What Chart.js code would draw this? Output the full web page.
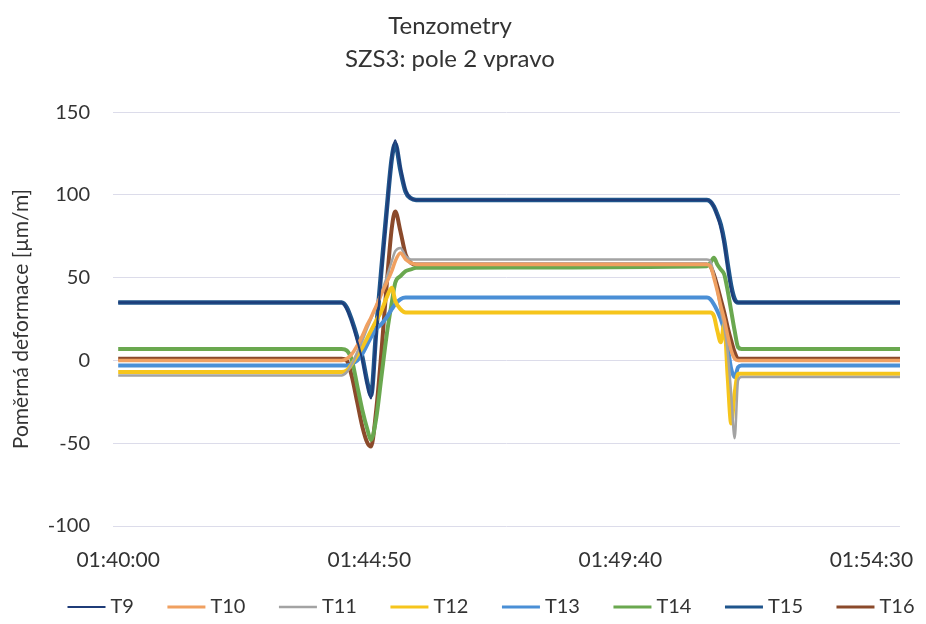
<!DOCTYPE html>
<html>
<head>
<meta charset="utf-8">
<script src="https://cdn.jsdelivr.net/npm/chart.js@4.4.0/dist/chart.umd.min.js"></script>
<style>
  html, body { margin: 0; padding: 0; background: #fff; }
  #wrap { width: 926px; height: 624px; }
</style>
</head>
<body>
<div id="wrap"><canvas id="tenzo-chart"></canvas></div>
<script>
// seconds since 01:40:00
var seconds = [0, 258, 264, 270, 276, 282, 288, 292, 298, 304, 310, 316, 320, 326, 332, 338, 344,
               680, 684, 688, 692, 696, 700, 704, 708, 712, 716, 720, 903];
var tickValues = [0, 290, 580, 870];
var tickLabels = ['01:40:00', '01:44:50', '01:49:40', '01:54:30'];

var t9  = [35, 35, 31, 23, 12, 0, -16, -23, 15, 52, 88, 123, 133, 117, 103, 98, 97, 97, 96, 93, 87, 80, 70, 56, 43, 36, 35, 35, 35];
var t10 = [0, 0, 1, 4, 9, 15, 22, 26, 33, 40, 47, 54, 60, 65, 61, 59, 58, 58, 57, 50, 42, 33, 25, 15, 6, 1, 0, 0, 0];
var t11 = [-9, -9, -7, -2, 5, 12, 20, 25, 33, 41, 50, 60, 66, 68, 63, 61, 61, 61, 60, 52, 42, 30, 20, 5, -20, -47, -12, -10, -10];
var t12 = [-7, -7, -6, -2, 3, 8, 14, 18, 24, 30, 38, 44, 36, 31, 29, 29, 29, 29, 29, 27, 18, 11, 22, -10, -38, -20, -8, -8, -8];
var t13 = [-3, -3, -3, -2, 0, 4, 10, 14, 19, 22, 26, 31, 34, 37, 38, 38, 38, 38, 37, 34, 30, 25, 18, 8, -5, -10, -4, -3, -3];
var t14 = [7, 7, 6, 0, -15, -30, -42, -48, -35, -10, 15, 35, 47, 51, 54, 55, 56, 57, 59, 62, 58, 55, 52, 42, 30, 18, 8, 7, 7];
var t15 = [35, 35, 32, 24, 14, 2, -14, -21, 18, 55, 90, 122, 131, 115, 102, 98, 97, 97, 96, 93, 88, 82, 72, 58, 45, 37, 35, 35, 35];
var t16 = [1, 1, 0, -10, -25, -40, -50, -52, -30, 5, 45, 80, 90, 78, 64, 59, 58, 58, 57, 52, 45, 37, 29, 20, 12, 5, 1, 1, 1];

var names  = ['T9', 'T10', 'T11', 'T12', 'T13', 'T14', 'T15', 'T16'];
var series = [t9, t10, t11, t12, t13, t14, t15, t16];
var colors = ['#1f3c78', '#f0a060', '#a3a3a3', '#f6c51c', '#4a8fd6', '#6aa84f', '#1f558c', '#8b4a2b'];
var widths = [2, 3.5, 2.5, 4, 4, 4, 4.5, 4];

var FONT = 'Lato, "Open Sans", sans-serif';
var TEXT = '#333333';

// legend drawn as short line + label, centred under the chart
var lineLegend = {
    id: 'lineLegend',
    afterDraw: function (chart) {
        var ctx = chart.ctx, sets = chart.data.datasets;
        var box = 38, gap = 5, space = 33.5, total = 0;
        ctx.save();
        ctx.font = '20px ' + FONT;
        sets.forEach(function (d, i) {
            total += box + gap + ctx.measureText(d.label).width + (i ? space : 0);
        });
        var x = (chart.width - total) / 2 + 28;
        var y = chart.height - 17;
        ctx.textBaseline = 'middle';
        ctx.textAlign = 'left';
        sets.forEach(function (d) {
            ctx.strokeStyle = d.borderColor;
            ctx.lineWidth = Math.min(d.borderWidth, 3);
            ctx.beginPath();
            ctx.moveTo(x, y);
            ctx.lineTo(x + box, y);
            ctx.stroke();
            x += box + gap;
            ctx.fillStyle = TEXT;
            ctx.fillText(d.label, x, y);
            x += ctx.measureText(d.label).width + space;
        });
        ctx.restore();
    }
};

function buildDatasets() {
    return names.map(function (name, k) {
        return {
            label: name,
            data: seconds.map(function (t, i) { return { x: t, y: series[k][i] }; }),
            borderColor: colors[k],
            backgroundColor: colors[k],
            borderWidth: widths[k],
            pointRadius: 0,
            cubicInterpolationMode: 'monotone',
            fill: false
        };
    });
}

new Chart(document.getElementById('tenzo-chart'), {
    type: 'line',
    data: { datasets: buildDatasets() },
    plugins: [lineLegend],
    options: {
        responsive: true,
        maintainAspectRatio: false,
        animation: false,
        layout: { padding: { left: 0, right: 26, top: 0, bottom: 48 } },
        plugins: {
            legend: { display: false },
            tooltip: { enabled: false },
            title: {
                display: true,
                text: ['Tenzometry', 'SZS3: pole 2 vpravo'],
                color: TEXT,
                font: { family: FONT, size: 24, weight: 'normal', lineHeight: 1.4 },
                padding: { top: 9, bottom: 36 }
            }
        },
        scales: {
            x: {
                type: 'linear',
                min: -6,
                max: 903,
                afterBuildTicks: function (scale) {
                    scale.ticks = tickValues.map(function (v) { return { value: v }; });
                },
                afterFit: function (scale) { scale.height = 50; },
                grid: { display: false, drawTicks: true, tickLength: 22 },
                border: { display: false },
                ticks: {
                    autoSkip: false,
                    maxRotation: 0,
                    padding: 0,
                    color: TEXT,
                    font: { family: FONT, size: 21 },
                    callback: function (v) {
                        var i = tickValues.indexOf(v);
                        return i < 0 ? '' : tickLabels[i];
                    }
                }
            },
            y: {
                min: -100,
                max: 150,
                afterFit: function (scale) { scale.width = 113; },
                grid: { color: '#dcdcea', lineWidth: 1, drawTicks: false },
                border: { display: false },
                ticks: {
                    stepSize: 50,
                    padding: 23,
                    color: TEXT,
                    font: { family: FONT, size: 20 }
                },
                title: {
                    display: true,
                    text: 'Poměrná deformace [µm/m]',
                    color: TEXT,
                    font: { family: FONT, size: 21 },
                    padding: { top: 9, bottom: 0 }
                }
            }
        }
    }
});
</script>
</body>
</html>
